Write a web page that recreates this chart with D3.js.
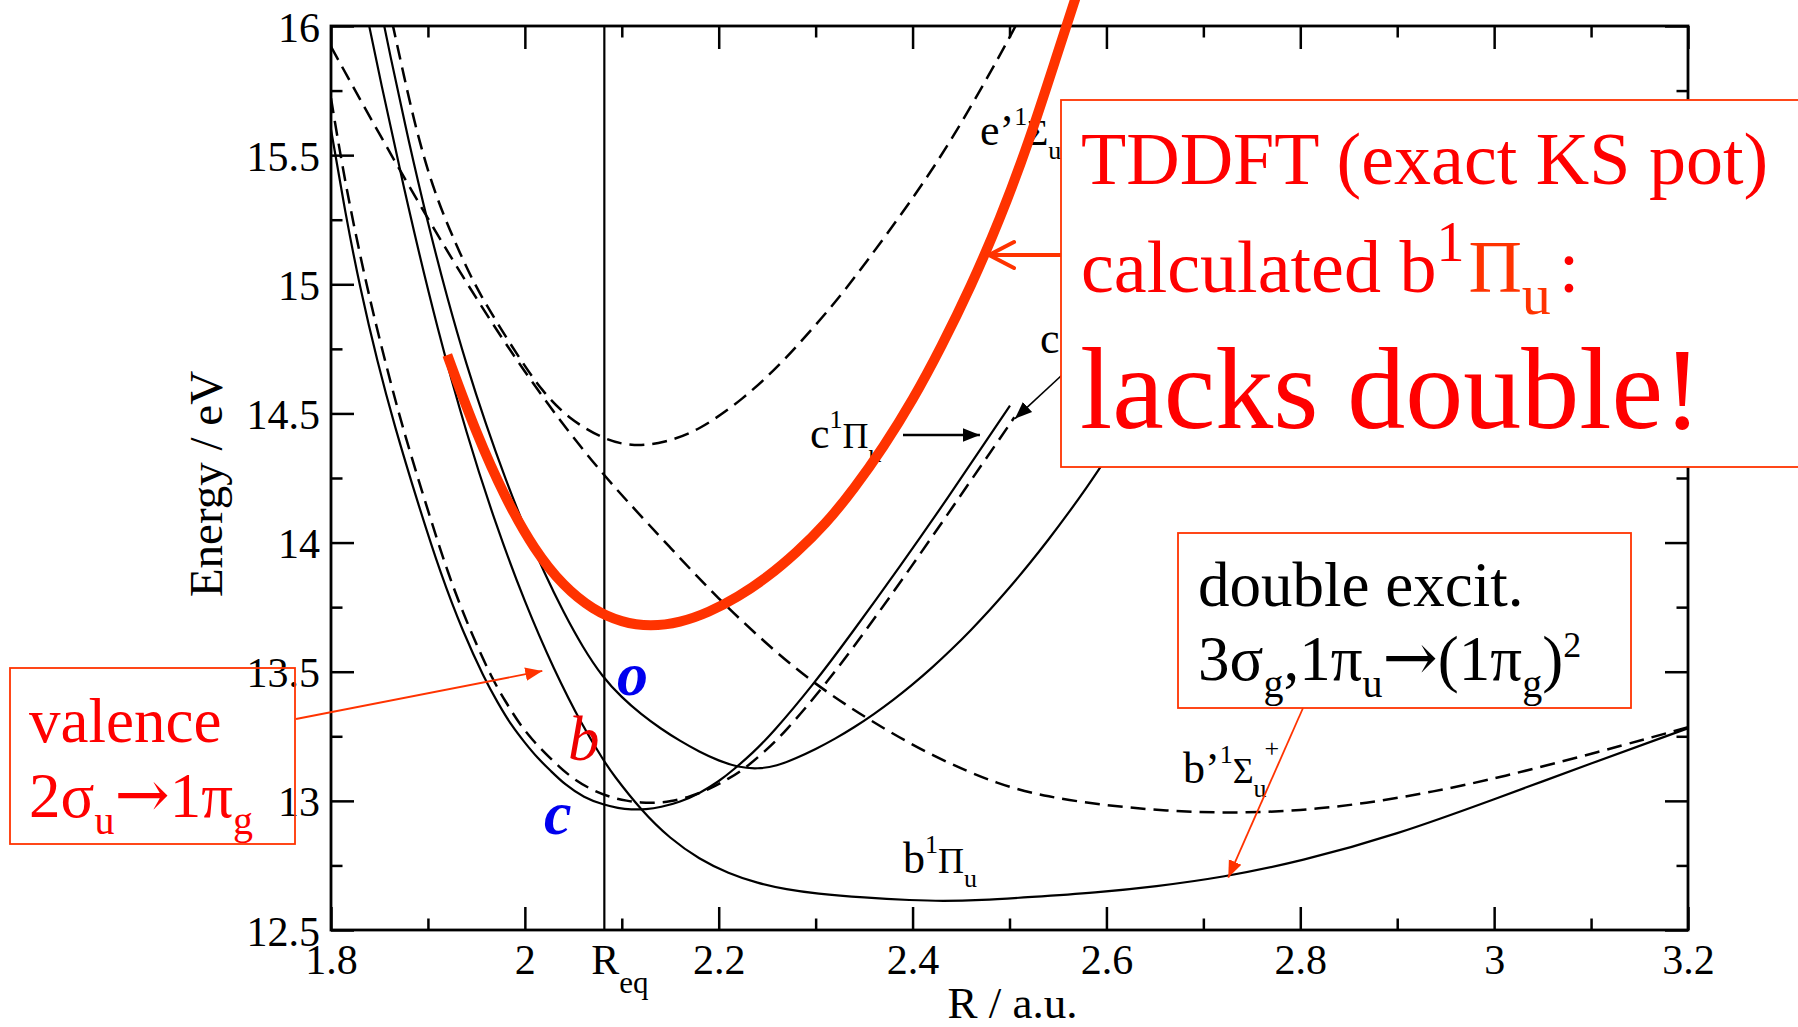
<!DOCTYPE html>
<html>
<head>
<meta charset="utf-8">
<title>N2 potential curves</title>
<script src="https://cdnjs.cloudflare.com/ajax/libs/d3/7.8.5/d3.min.js"></script>
<style>
  html, body { margin: 0; padding: 0; background: #fff; overflow: hidden; }
  svg { display: block; }
</style>
</head>
<body>
<svg></svg>
<script>
// N2 singlet ungerade potential curves, [R (a.u.), E (eV)]
let reqValue = 2.082;

let cPi = [
  [1.80, 15.60], [1.815, 15.27], [1.830, 14.985], [1.848, 14.697], [1.8653, 14.455],
  [1.889, 14.16], [1.9135, 13.874], [1.936, 13.655], [1.9582, 13.474], [1.972, 13.38],
  [1.9857, 13.294], [2.0, 13.225], [2.0132, 13.165], [2.027, 13.115], [2.0407, 13.065],
  [2.061, 13.012], [2.082, 12.984], [2.096, 12.972], [2.1095, 12.966], [2.125, 12.967],
  [2.14, 12.975], [2.16, 12.995], [2.1807, 13.03], [2.20, 13.075], [2.2151, 13.12],
  [2.235, 13.185], [2.255, 13.26], [2.2976, 13.45], [2.3355, 13.64], [2.387, 13.907],
  [2.4386, 14.185], [2.4765, 14.397], [2.5005, 14.53]
];

let cpSigma = [
  [1.80, 15.72], [1.815, 15.38], [1.838, 14.97], [1.856, 14.70], [1.873, 14.455],
  [1.897, 14.16], [1.921, 13.874], [1.944, 13.655], [1.966, 13.474], [1.98, 13.385],
  [1.994, 13.30], [2.008, 13.235], [2.022, 13.18], [2.036, 13.13], [2.05, 13.085],
  [2.07, 13.04], [2.09, 13.012], [2.105, 13.0], [2.12, 12.993], [2.135, 12.992],
  [2.15, 12.997], [2.17, 13.015], [2.19, 13.045], [2.21, 13.085], [2.227, 13.125],
  [2.247, 13.19], [2.267, 13.26], [2.31, 13.45], [2.348, 13.64], [2.399, 13.907],
  [2.45, 14.185], [2.489, 14.397], [2.505, 14.485]
];

let bPi = [
  [1.835, 16.08], [1.85, 15.806], [1.88, 15.288], [1.91, 14.823], [1.94, 14.418],
  [1.97, 14.069], [2.00, 13.767], [2.03, 13.507], [2.06, 13.286], [2.082, 13.152],
  [2.09, 13.107], [2.12, 12.963], [2.15, 12.853], [2.18, 12.774], [2.21, 12.719],
  [2.24, 12.681], [2.27, 12.657], [2.30, 12.641], [2.35, 12.625], [2.40, 12.615],
  [2.43, 12.612], [2.47, 12.615], [2.52, 12.627], [2.59, 12.645], [2.65, 12.668],
  [2.72, 12.704], [2.80, 12.765], [2.90, 12.87], [3.00, 13.006], [3.10, 13.145],
  [3.2, 13.281]
];

let oPi = [
  [1.85, 16.09], [1.86, 15.905], [1.88, 15.555], [1.90, 15.235], [1.92, 14.945],
  [1.94, 14.685], [1.96, 14.455], [1.98, 14.245], [2.00, 14.055], [2.02, 13.883],
  [2.04, 13.729], [2.06, 13.593], [2.08, 13.48], [2.10, 13.40], [2.12, 13.335],
  [2.14, 13.28], [2.16, 13.232], [2.18, 13.19], [2.20, 13.155], [2.22, 13.13],
  [2.24, 13.123], [2.26, 13.135], [2.28, 13.165], [2.30, 13.20], [2.32, 13.24],
  [2.34, 13.285], [2.36, 13.335], [2.38, 13.39], [2.40, 13.45], [2.42, 13.515],
  [2.44, 13.585], [2.46, 13.66], [2.48, 13.74], [2.50, 13.825], [2.52, 13.915],
  [2.54, 14.01], [2.56, 14.11], [2.58, 14.215], [2.60, 14.325], [2.65, 14.62],
  [2.70, 14.94]
];

let bpSigma = [
  [1.80, 15.92], [1.85, 15.58], [1.90, 15.252], [1.95, 14.942], [2.00, 14.657],
  [2.05, 14.404], [2.082, 14.26], [2.10, 14.183], [2.15, 13.98], [2.20, 13.78],
  [2.25, 13.605], [2.2976, 13.455], [2.3561, 13.31], [2.4215, 13.17], [2.4903, 13.06],
  [2.54, 13.015], [2.5934, 12.985], [2.662, 12.96], [2.731, 12.952], [2.80, 12.962],
  [2.868, 12.99], [2.937, 13.035], [3.006, 13.09], [3.109, 13.19], [3.2, 13.285]
];

let epSigma = [
  [1.858, 16.1], [1.864, 16.0], [1.875, 15.81], [1.886, 15.63], [1.896, 15.49],
  [1.906, 15.37], [1.918, 15.25], [1.932, 15.13], [1.9513, 14.971], [1.9943, 14.713],
  [2.0183, 14.584], [2.045, 14.48], [2.082, 14.397], [2.113, 14.371], [2.144, 14.387],
  [2.178, 14.43], [2.2254, 14.555], [2.2667, 14.70], [2.31, 14.885], [2.3354, 15.0],
  [2.4042, 15.35], [2.4489, 15.61], [2.504, 15.98], [2.51, 16.03]
];

// TDDFT (exact KS potential) b 1Pi_u
let tddftPi = [
  [1.92, 14.726], [1.95, 14.42], [1.98, 14.17], [2.01, 13.97], [2.04, 13.83],
  [2.07, 13.74], [2.10, 13.69], [2.13, 13.675], [2.16, 13.69], [2.19, 13.73],
  [2.22, 13.79], [2.25, 13.865], [2.28, 13.96], [2.31, 14.07], [2.34, 14.21],
  [2.37, 14.37], [2.40, 14.55], [2.43, 14.76], [2.46, 14.99], [2.49, 15.25],
  [2.52, 15.55], [2.55, 15.90], [2.57, 16.13]
];

let xMajor = [1.8, 2, 2.2, 2.4, 2.6, 2.8, 3, 3.2];
let xMinor = [1.9, 2.1, 2.3, 2.5, 2.7, 2.9, 3.1];
let yMajor = [12.5, 13, 13.5, 14, 14.5, 15, 15.5, 16];
let yMinor = [12.75, 13.25, 13.75, 14.25, 14.75, 15.25, 15.75];

let width = 1798;
let height = 1027;
let plot = { left: 331, right: 1688, top: 26, bottom: 930 };
let serif = "'Liberation Serif', 'Times New Roman', Times, serif";
let arrowFont = "'DejaVu Serif', 'Liberation Serif', serif";
let red = "#ff0000";
let orange = "#ff3300";

let svg = d3.select("svg");
let xScale;
let yScale;

let generateScales = () => {
  xScale = d3.scaleLinear().domain([1.8, 3.2]).range([plot.left, plot.right]);
  yScale = d3.scaleLinear().domain([12.5, 16]).range([plot.bottom, plot.top]);
};

let drawCanvas = () => {
  svg.attr("width", width).attr("height", height);
  svg.append("rect").attr("width", width).attr("height", height).attr("fill", "#fff");

  let defs = svg.append("defs");
  defs.append("clipPath").attr("id", "plotClip")
    .append("rect")
    .attr("x", plot.left).attr("y", plot.top)
    .attr("width", plot.right - plot.left).attr("height", plot.bottom - plot.top);

  [["headBlack", "#000"], ["headRed", orange]].forEach(([id, col]) => {
    defs.append("marker")
      .attr("id", id)
      .attr("viewBox", "0 -5 10 10")
      .attr("refX", 10).attr("refY", 0)
      .attr("markerWidth", 17).attr("markerHeight", 17)
      .attr("markerUnits", "userSpaceOnUse")
      .attr("orient", "auto")
      .append("path").attr("d", "M0,-4L10,0L0,4Z").attr("fill", col);
  });
};

let styleAxis = (g, labelDy) => {
  g.select(".domain").remove();
  g.selectAll("line").attr("stroke", "#000").attr("stroke-width", 2.5);
  g.selectAll("text")
    .attr("font-family", serif)
    .attr("font-size", 42)
    .attr("fill", "#000");
  if (labelDy) g.selectAll("text").attr("dy", labelDy);
};

let richText = (g, x, y, parts, opts) => {
  let t = g.append("text")
    .attr("x", x).attr("y", y)
    .attr("font-family", serif)
    .attr("fill", opts.fill || "#000");
  if (opts.style) t.attr("font-style", opts.style);
  if (opts.weight) t.attr("font-weight", opts.weight);
  let prev = 0;
  parts.forEach((p) => {
    let shift = p.shift || 0;
    let span = t.append("tspan")
      .attr("font-size", p.size)
      .attr("dy", shift - prev)
      .text(p.text);
    if (p.dx) span.attr("dx", p.dx);
    if (p.fill) span.attr("fill", p.fill);
    if (p.family) span.attr("font-family", p.family);
    prev = shift;
  });
  return t;
};

let drawAxes = () => {
  let fmt = (d) => String(d);
  svg.append("g").attr("transform", "translate(0," + plot.bottom + ")")
    .call(d3.axisBottom(xScale).tickValues(xMajor).tickSize(-23).tickPadding(14).tickFormat(fmt))
    .call((g) => styleAxis(g));
  svg.append("g").attr("transform", "translate(0," + plot.bottom + ")")
    .call(d3.axisBottom(xScale).tickValues(xMinor).tickSize(-11.5).tickFormat(""))
    .call((g) => styleAxis(g));
  svg.append("g").attr("transform", "translate(0," + plot.top + ")")
    .call(d3.axisTop(xScale).tickValues(xMajor).tickSize(-23).tickFormat(""))
    .call((g) => styleAxis(g));
  svg.append("g").attr("transform", "translate(0," + plot.top + ")")
    .call(d3.axisTop(xScale).tickValues(xMinor).tickSize(-11.5).tickFormat(""))
    .call((g) => styleAxis(g));

  svg.append("g").attr("transform", "translate(" + plot.left + ",0)")
    .call(d3.axisLeft(yScale).tickValues(yMajor).tickSize(-23).tickPadding(11).tickFormat(fmt))
    .call((g) => styleAxis(g, "0.36em"));
  svg.append("g").attr("transform", "translate(" + plot.left + ",0)")
    .call(d3.axisLeft(yScale).tickValues(yMinor).tickSize(-11.5).tickFormat(""))
    .call((g) => styleAxis(g));
  svg.append("g").attr("transform", "translate(" + plot.right + ",0)")
    .call(d3.axisRight(yScale).tickValues(yMajor).tickSize(-23).tickFormat(""))
    .call((g) => styleAxis(g));
  svg.append("g").attr("transform", "translate(" + plot.right + ",0)")
    .call(d3.axisRight(yScale).tickValues(yMinor).tickSize(-11.5).tickFormat(""))
    .call((g) => styleAxis(g));

  svg.append("rect")
    .attr("x", plot.left).attr("y", plot.top)
    .attr("width", plot.right - plot.left).attr("height", plot.bottom - plot.top)
    .attr("fill", "none").attr("stroke", "#000").attr("stroke-width", 2.8);

  // R_eq label under its own line
  richText(svg, xScale(reqValue) - 13, 974, [
    { text: "R", size: 42 },
    { text: "eq", size: 31, shift: 19 }
  ], {});

  svg.append("text")
    .attr("transform", "translate(222,484) rotate(-90)")
    .attr("text-anchor", "middle")
    .attr("font-family", serif).attr("font-size", 47)
    .text("Energy / eV");

  svg.append("text")
    .attr("x", (plot.left + plot.right) / 2 + 3).attr("y", 1018)
    .attr("text-anchor", "middle")
    .attr("font-family", serif).attr("font-size", 45)
    .text("R / a.u.");
};

let drawCurves = () => {
  let line = d3.line()
    .x((d) => xScale(d[0]))
    .y((d) => yScale(d[1]))
    .curve(d3.curveBasis);

  let g = svg.append("g").attr("clip-path", "url(#plotClip)");

  let solids = [cPi, bPi, oPi];
  let dashed = [cpSigma, bpSigma, epSigma];

  g.selectAll("path.solid")
    .data(solids)
    .enter()
    .append("path")
    .attr("class", "solid")
    .attr("d", line)
    .attr("fill", "none")
    .attr("stroke", "#000")
    .attr("stroke-width", 2.2);

  g.selectAll("path.dashed")
    .data(dashed)
    .enter()
    .append("path")
    .attr("class", "dashed")
    .attr("d", line)
    .attr("fill", "none")
    .attr("stroke", "#000")
    .attr("stroke-width", 2.5)
    .attr("stroke-dasharray", "15,8");

  g.append("line")
    .attr("x1", xScale(reqValue)).attr("x2", xScale(reqValue))
    .attr("y1", plot.top).attr("y2", plot.bottom)
    .attr("stroke", "#000").attr("stroke-width", 2.2);
};

let drawStateLabels = () => {
  let g = svg.append("g");
  let big = 44;
  let greek = 36;
  let small = 26;

  richText(g, 980, 145, [
    { text: "e’", size: big },
    { text: "1", size: small, shift: -20 },
    { text: "Σ", size: greek, shift: 0 },
    { text: "u", size: small, shift: 14 }
  ], {});

  richText(g, 1040, 353, [
    { text: "c’", size: big },
    { text: "1", size: small, shift: -20 },
    { text: "Σ", size: greek, shift: 0 },
    { text: "u", size: small, shift: 14 }
  ], {});

  richText(g, 810, 448, [
    { text: "c", size: big },
    { text: "1", size: small, shift: -20 },
    { text: "Π", size: greek, shift: 0 },
    { text: "u", size: small, shift: 14 }
  ], {});

  richText(g, 903, 873, [
    { text: "b", size: big },
    { text: "1", size: small, shift: -20 },
    { text: "Π", size: greek, shift: 0 },
    { text: "u", size: small, shift: 14 }
  ], {});

  richText(g, 1183, 783, [
    { text: "b’", size: big },
    { text: "1", size: small, shift: -20 },
    { text: "Σ", size: greek, shift: 0 },
    { text: "u", size: small, shift: 14 },
    { text: "+", size: small, shift: -26, dx: -2 }
  ], {});

  // arrows of the c states
  g.append("line")
    .attr("x1", 903).attr("y1", 435)
    .attr("x2", xScale(2.4695)).attr("y2", 435)
    .attr("stroke", "#000").attr("stroke-width", 2.6)
    .attr("marker-end", "url(#headBlack)");
  g.append("line")
    .attr("x1", 1075).attr("y1", 363)
    .attr("x2", xScale(2.5057)).attr("y2", yScale(14.48))
    .attr("stroke", "#000").attr("stroke-width", 1.6)
    .attr("marker-end", "url(#headBlack)");

  // coloured letters at R_eq
  g.append("text").attr("x", 617).attr("y", 695)
    .attr("font-family", serif).attr("font-size", 62)
    .attr("font-style", "italic").attr("font-weight", "bold")
    .attr("fill", "#0000ee").text("o");
  g.append("text").attr("x", 568).attr("y", 760)
    .attr("font-family", serif).attr("font-size", 63)
    .attr("font-style", "italic")
    .attr("fill", "#ee0000").text("b");
  g.append("text").attr("x", 544).attr("y", 834)
    .attr("font-family", serif).attr("font-size", 62)
    .attr("font-style", "italic").attr("font-weight", "bold")
    .attr("fill", "#0000ee").text("c");
};

let drawTddft = () => {
  let line = d3.line()
    .x((d) => xScale(d[0]))
    .y((d) => yScale(d[1]))
    .curve(d3.curveBasis);

  svg.append("path")
    .datum(tddftPi)
    .attr("d", line)
    .attr("fill", "none")
    .attr("stroke", orange)
    .attr("stroke-width", 10)
    .attr("stroke-linecap", "butt");
};

let drawBoxes = () => {
  let g = svg.append("g");

  // TDDFT box
  g.append("rect")
    .attr("x", 1061).attr("y", 100).attr("width", 760).attr("height", 367)
    .attr("fill", "#fff").attr("stroke", orange).attr("stroke-width", 1.8);
  richText(g, 1081, 184, [{ text: "TDDFT (exact KS pot)", size: 74 }], { fill: red });
  richText(g, 1081, 292, [
    { text: "calculated b", size: 74 },
    { text: "1", size: 56, shift: -31 },
    { text: "Π", size: 74, shift: 0, dx: 4, fill: orange },
    { text: "u", size: 58, shift: 22, fill: orange },
    { text: ":", size: 74, shift: 0, dx: 8 }
  ], { fill: red });
  richText(g, 1080, 428, [{ text: "lacks double!", size: 116 }], { fill: red });

  let tipX = xScale(2.4768) + 2;
  let tipY = 255;
  g.append("line")
    .attr("x1", 1061).attr("y1", tipY).attr("x2", tipX).attr("y2", tipY)
    .attr("stroke", orange).attr("stroke-width", 4);
  g.append("path")
    .attr("d", "M" + (tipX + 25) + "," + (tipY - 13) + "L" + tipX + "," + tipY + "L" + (tipX + 25) + "," + (tipY + 13))
    .attr("fill", "none").attr("stroke", orange).attr("stroke-width", 4)
    .attr("stroke-linecap", "round").attr("stroke-linejoin", "miter");

  // double excitation box
  g.append("rect")
    .attr("x", 1178).attr("y", 533).attr("width", 453).attr("height", 175)
    .attr("fill", "#fff").attr("stroke", orange).attr("stroke-width", 1.8);
  richText(g, 1198, 606, [{ text: "double excit.", size: 63 }], {});
  richText(g, 1198, 680, [
    { text: "3σ", size: 63 },
    { text: "g", size: 40, shift: 17 },
    { text: ",1π", size: 63, shift: 0 },
    { text: "u", size: 40, shift: 17 },
    { text: "→", size: 66, shift: 0, family: arrowFont },
    { text: "(1π", size: 63, shift: 0 },
    { text: "g", size: 40, shift: 17 },
    { text: ")", size: 63, shift: 0 },
    { text: "2", size: 36, shift: -23 }
  ], {});
  g.append("line")
    .attr("x1", 1303).attr("y1", 708)
    .attr("x2", xScale(2.7257)).attr("y2", yScale(12.703))
    .attr("stroke", orange).attr("stroke-width", 1.8)
    .attr("marker-end", "url(#headRed)");

  // valence box (no fill, tick labels show through)
  g.append("rect")
    .attr("x", 10).attr("y", 668).attr("width", 285).attr("height", 176)
    .attr("fill", "none").attr("stroke", orange).attr("stroke-width", 1.8);
  richText(g, 29, 742, [{ text: "valence", size: 63 }], { fill: red });
  richText(g, 29, 817, [
    { text: "2σ", size: 63 },
    { text: "u", size: 40, shift: 17 },
    { text: "→", size: 66, shift: 0, family: arrowFont },
    { text: "1π", size: 63, shift: 0 },
    { text: "g", size: 40, shift: 17 }
  ], { fill: red });
  g.append("line")
    .attr("x1", 296).attr("y1", 719)
    .attr("x2", xScale(2.018)).attr("y2", yScale(13.503))
    .attr("stroke", orange).attr("stroke-width", 1.8)
    .attr("marker-end", "url(#headRed)");
};

generateScales();
drawCanvas();
drawCurves();
drawAxes();
drawStateLabels();
drawTddft();
drawBoxes();
</script>
</body>
</html>
